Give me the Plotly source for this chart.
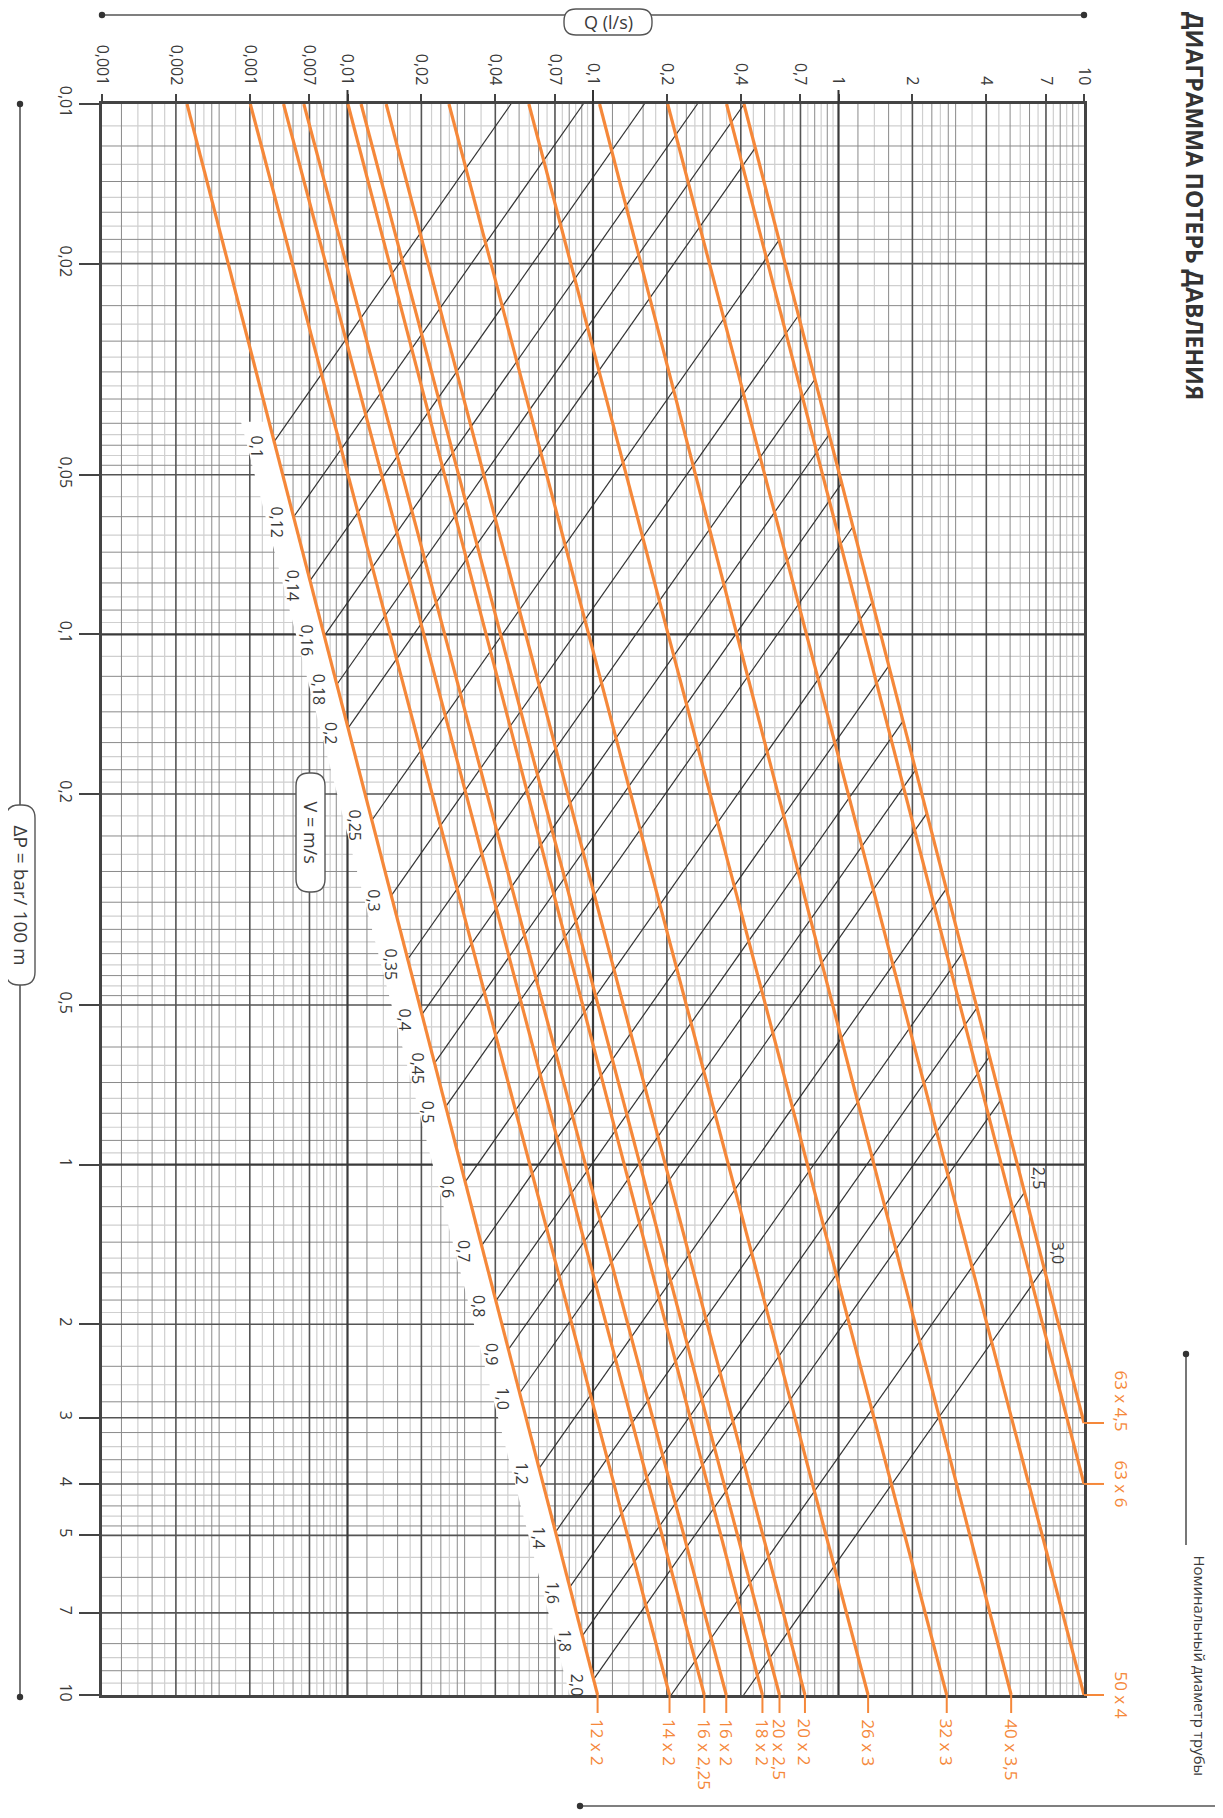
import math
import plotly.graph_objects as go

# ---------------- data ----------------
q_ticks = [0.001, 0.002, 0.004, 0.007, 0.01, 0.02, 0.04, 0.07, 0.1, 0.2, 0.4, 0.7, 1, 2, 4, 7, 10]
q_ticktext = ["0,001", "0,002", "0,001", "0,007", "0,01", "0,02", "0,04", "0,07", "0,1", "0,2",
              "0,4", "0,7", "1", "2", "4", "7", "10"]
dp_ticks = [0.01, 0.02, 0.05, 0.1, 0.2, 0.5, 1, 2, 3, 4, 5, 7, 10]
dp_ticktext = ["0,01", "0,02", "0,05", "0,1", "0,2", "0,5", "1", "2", "3", "4", "5", "7", "10"]

pipe_labels = ["12 x 2", "14 x 2", "16 x 2,25", "16 x 2", "18 x 2", "20 x 2,5", "20 x 2",
               "26 x 3", "32 x 3", "40 x 3,5", "50 x 4", "63 x 6", "63 x 4,5"]
pipe_od = [12, 14, 16, 16, 18, 20, 20, 26, 32, 40, 50, 63, 63]
pipe_wall = [2, 2, 2.25, 2, 2, 2.5, 2, 3, 3, 3.5, 4, 6, 4.5]
pipe_q_start = [0.00222, 0.00402, 0.00549, 0.00664, 0.01004, 0.01136, 0.01437, 0.0259, 0.0548,
                0.1064, 0.2015, 0.350, 0.412]
pipe_dp_start = [0.01] * 13
pipe_q_end = [0.1044, 0.205, 0.284, 0.349, 0.49, 0.575, 0.73, 1.32, 2.76, 5.05, 10, 10, 10]
pipe_dp_end = [10] * 11 + [4.0, 3.07]

velocities = [0.1, 0.12, 0.14, 0.16, 0.18, 0.2, 0.25, 0.3, 0.35, 0.4, 0.45, 0.5, 0.6, 0.7, 0.8,
              0.9, 1.0, 1.2, 1.4, 1.6, 1.8, 2.0, 2.5, 3.0]
velocity_text = ["0,1", "0,12", "0,14", "0,16", "0,18", "0,2", "0,25", "0,3", "0,35", "0,4", "0,45",
                 "0,5", "0,6", "0,7", "0,8", "0,9", "1,0", "1,2", "1,4", "1,6", "1,8", "2,0", "2,5", "3,0"]

# minor grid multipliers inside a decade
q_minor_mult = [1.2, 1.4, 1.6, 1.8, 2.2, 2.4, 2.6, 2.8, 3, 3.5, 4.5, 5, 5.5, 6, 6.5, 7.5, 8, 8.5, 9, 9.5]
dp_minor_mult = [1.1, 1.2, 1.3, 1.4, 1.5, 1.6, 1.7, 1.8, 1.9, 2.2, 2.4, 2.6, 2.8, 3, 3.2, 3.4, 3.6,
                 3.8, 4, 4.2, 4.4, 4.6, 4.8, 5.5, 6, 6.5, 7, 7.5, 8, 8.5, 9, 9.5]

# ---------------- geometry (page pixels; page body has an 8px margin) ----------------
PAGE_W, PAGE_H = 1223, 1818
BODY = 8
FIG_W, FIG_H = PAGE_W - 2 * BODY, PAGE_H - 2 * BODY
L, R, T, B = 102, 1084, 104, 1695          # plot area in page pixels
PW, PH = R - L, B - T
QMIN, QMAX = -3, 1       # log10 range
DPMIN, DPMAX = -2, 1
QPX = PW / (QMAX - QMIN)     # pixels per decade
DPPX = PH / (DPMAX - DPMIN)

ORANGE = "#F5883A"
DARK = "#3a3a3a"
FONT = "Open Sans"


def px(x):
    return (x - L) / PW


def py(y):
    return (B - y) / PH


def qpaper(q):
    return (math.log10(q) - QMIN) / (QMAX - QMIN)


def dppaper(p):
    return (DPMAX - math.log10(p)) / (DPMAX - DPMIN)


fig = go.Figure()


# ---------------- grid (as traces, data units) ----------------
def vlines(vals):
    xs, ys = [], []
    for v in vals:
        xs += [v, v, None]
        ys += [10 ** DPMIN, 10 ** DPMAX, None]
    return xs, ys


def hlines(vals):
    xs, ys = [], []
    for v in vals:
        xs += [10 ** QMIN, 10 ** QMAX, None]
        ys += [v, v, None]
    return xs, ys


q_tick_set = set(round(v, 6) for v in q_ticks)
dp_tick_set = set(round(v, 6) for v in dp_ticks)
q_light, q_dark, dp_light, dp_dark = [], [], [], []
for dec in range(QMIN, QMAX):
    for m in q_minor_mult:
        v = round(m * 10 ** dec, 8)
        if round(v, 6) in q_tick_set:
            continue
        dark = (m < 3 and round(m * 10) % 4 == 0) or (m >= 3 and m == int(m))
        (q_dark if dark else q_light).append(v)
for dec in range(DPMIN, DPMAX):
    for m in dp_minor_mult:
        v = round(m * 10 ** dec, 8)
        if round(v, 6) in dp_tick_set:
            continue
        dark = (m < 2 and round(m * 10) % 2 == 0) or (2 <= m < 5 and round(m * 10) % 4 == 0) or (m >= 5 and m == int(m))
        (dp_dark if dark else dp_light).append(v)

q_major = [v for v in q_ticks if v not in (0.001, 0.01, 0.1, 1, 10)]
q_decade = [0.01, 0.1, 1]
dp_major = [v for v in dp_ticks if v not in (0.01, 0.1, 1, 10)]
dp_decade = [0.1, 1]

for (vals, color, width, kind) in [
    (q_light, "#cfcfcf", 1.2, "v"), (dp_light, "#cfcfcf", 1.2, "h"),
    (q_dark, "#8a8a8a", 1.0, "v"), (dp_dark, "#8a8a8a", 1.0, "h"),
    (q_major, "#555555", 1.6, "v"), (dp_major, "#555555", 1.6, "h"),
    (q_decade, "#3a3a3a", 2.2, "v"), (dp_decade, "#3a3a3a", 2.2, "h"),
]:
    xs, ys = vlines(vals) if kind == "v" else hlines(vals)
    fig.add_trace(go.Scatter(x=xs, y=ys, mode="lines", line=dict(color=color, width=width),
                             hoverinfo="skip", showlegend=False))


# ---------------- pipe lines ----------------
def pipe_params(i):
    lq1, lp1 = math.log10(pipe_q_start[i]), math.log10(pipe_dp_start[i])
    lq2, lp2 = math.log10(pipe_q_end[i]), math.log10(pipe_dp_end[i])
    n = (lp2 - lp1) / (lq2 - lq1)
    return lq1, lp1, n


def pipe_lp(i, lq):
    lq1, lp1, n = pipe_params(i)
    return lp1 + n * (lq - lq1)


def pipe_lq(i, lp):
    lq1, lp1, n = pipe_params(i)
    return lq1 + (lp - lp1) / n


def inner_area_m2(i):
    d = (pipe_od[i] - 2 * pipe_wall[i]) / 1000.0
    return math.pi * d * d / 4


# velocity lines: from the smallest pipe to the largest pipe at the same speed
first, last = 0, len(pipe_labels) - 1
vx, vy = [], []
vel_label_pos = []
for v in velocities:
    lqs = math.log10(v * inner_area_m2(first) * 1000)
    lps = pipe_lp(first, lqs)
    lqe = math.log10(v * inner_area_m2(last) * 1000)
    lpe = pipe_lp(last, lqe)
    t0, t1 = 0.0, 1.0
    if lps > DPMAX:
        t0 = (DPMAX - lps) / (lpe - lps)
    if lpe < DPMIN:
        t1 = (DPMIN - lps) / (lpe - lps)
    a = (lqs + t0 * (lqe - lqs), lps + t0 * (lpe - lps))
    b = (lqs + t1 * (lqe - lqs), lps + t1 * (lpe - lps))
    vx += [10 ** a[0], 10 ** b[0], None]
    vy += [10 ** a[1], 10 ** b[1], None]
    vel_label_pos.append((a, b, t0 > 0))

# white band along the left of the smallest pipe (behind the speed labels)
first_lbl = vel_label_pos[0][0]
lp_top = first_lbl[1] - 20 / DPPX
lp_bot = DPMAX
k = -28 / QPX
band_lq = [pipe_lq(first, lp_top), pipe_lq(first, lp_bot), pipe_lq(first, lp_bot) + k,
           pipe_lq(first, lp_top) + k]
band_lp = [lp_top, lp_bot, lp_bot, lp_top]
fig.add_trace(go.Scatter(x=[10 ** a for a in band_lq], y=[10 ** b for b in band_lp], mode="lines",
                         fill="toself", fillcolor="white", line=dict(width=0, color="white"),
                         hoverinfo="skip", showlegend=False))

fig.add_trace(go.Scatter(x=vx, y=vy, mode="lines", line=dict(color="#333333", width=1.2),
                         hoverinfo="skip", showlegend=False))

annotations = []
shapes = []

# velocity labels
for (a, b, from_end), txt in zip(vel_label_pos, velocity_text):
    if not from_end:
        annotations.append(dict(x=a[0], y=a[1], xref="x", yref="y", text=txt, showarrow=False,
                                textangle=90, xanchor="right", yanchor="middle", xshift=-4, yshift=-5,
                                font=dict(family=FONT, size=16, color=DARK)))
    else:
        annotations.append(dict(x=b[0], y=b[1], xref="x", yref="y", text=txt, showarrow=False,
                                textangle=90, xanchor="left", yanchor="bottom", xshift=1, yshift=2,
                                font=dict(family=FONT, size=16, color=DARK)))

for i, lab in enumerate(pipe_labels):
    fig.add_trace(go.Scatter(x=[pipe_q_start[i], pipe_q_end[i]], y=[pipe_dp_start[i], pipe_dp_end[i]],
                             mode="lines", line=dict(color=ORANGE, width=3.2), name=lab,
                             hoverinfo="name", showlegend=False))

# pipe labels + leader lines
for i, lab in enumerate(pipe_labels):
    if pipe_dp_end[i] >= 10 and pipe_q_end[i] < 10:
        xp = qpaper(pipe_q_end[i])
        shapes.append(dict(type="line", xref="paper", yref="paper", x0=xp, x1=xp, y0=0, y1=-18 / PH,
                           line=dict(color=ORANGE, width=2)))
        annotations.append(dict(x=xp, y=-22 / PH, xref="paper", yref="paper", text=lab,
                                showarrow=False, textangle=90, xanchor="center", yanchor="top",
                                font=dict(family=FONT, size=17, color=ORANGE)))
    else:
        yp = dppaper(pipe_dp_end[i])
        shapes.append(dict(type="line", xref="paper", yref="paper", x0=1, x1=1 + 20 / PW, y0=yp, y1=yp,
                           line=dict(color=ORANGE, width=2)))
        annotations.append(dict(x=1 + 24 / PW, y=yp, xref="paper", yref="paper", text=lab,
                                showarrow=False, textangle=90, xanchor="left", yanchor="middle",
                                yshift=22 if i == last else 0,
                                font=dict(family=FONT, size=17, color=ORANGE)))

# long decade ticks at top
for q in q_decade:
    xp = qpaper(q)
    shapes.append(dict(type="line", xref="paper", yref="paper", x0=xp, x1=xp, y0=1, y1=1 + 14 / PH,
                       line=dict(color="#333333", width=2)))


# ---------------- decorations ----------------
def rounded_rect(x0, y0, x1, y1, r):
    def P(x, y):
        return f"{px(x):.5f},{py(y):.5f}"
    return ("M " + P(x0 + r, y0) + " L " + P(x1 - r, y0) + " Q " + P(x1, y0) + " " + P(x1, y0 + r) +
            " L " + P(x1, y1 - r) + " Q " + P(x1, y1) + " " + P(x1 - r, y1) +
            " L " + P(x0 + r, y1) + " Q " + P(x0, y1) + " " + P(x0, y1 - r) +
            " L " + P(x0, y0 + r) + " Q " + P(x0, y0) + " " + P(x0 + r, y0) + " Z")


def dot(x, y, r=3.2):
    return dict(type="circle", xref="paper", yref="paper", x0=px(x - r), x1=px(x + r),
                y0=py(y + r), y1=py(y - r), fillcolor="#333333", line=dict(width=0))


def seg(x0, y0, x1, y1, w=1.6, color="#555555"):
    return dict(type="line", xref="paper", yref="paper", x0=px(x0), y0=py(y0), x1=px(x1), y1=py(y1),
                line=dict(color=color, width=w))


def label(x, y, text, size, angle=0, color=DARK, xa="center", ya="middle"):
    return dict(x=px(x), y=py(y), xref="paper", yref="paper", text=text, showarrow=False,
                textangle=angle, xanchor=xa, yanchor=ya, font=dict(family=FONT, size=size, color=color))


# top Q axis title line
shapes += [seg(102, 15, 1084, 15), dot(102, 15), dot(1084, 15)]
shapes.append(dict(type="path", xref="paper", yref="paper", path=rounded_rect(564, 9, 652, 35, 12),
                   fillcolor="white", line=dict(color="#555555", width=1.4)))
annotations.append(label(608, 22, "Q (l/s)", 18))

# left dP title line
shapes += [seg(20, 104, 20, 1697), dot(20, 104), dot(20, 1697)]
shapes.append(dict(type="path", xref="paper", yref="paper", path=rounded_rect(6, 805, 35, 985, 13),
                   fillcolor="white", line=dict(color="#555555", width=1.4)))
annotations.append(label(20.5, 895, "ΔP = bar/ 100 m", 19, angle=90))

# V = m/s box
shapes.append(dict(type="path", xref="paper", yref="paper", path=rounded_rect(296, 773, 325, 892, 13),
                   fillcolor="white", line=dict(color="#555555", width=1.4)))
annotations.append(label(310.5, 832, "V = m/s", 18, angle=90))

# right side: nominal diameter
shapes += [seg(1186, 1354, 1186, 1545), dot(1186, 1354)]
annotations.append(label(1200, 1553, "Номинальный диаметр трубы", 15, angle=90, ya="top"))
shapes += [seg(580, 1806, 1215, 1806), dot(580, 1806)]

# title at the right page edge
annotations.append(label(1195, 10, "<b>ДИАГРАММА ПОТЕРЬ ДАВЛЕНИЯ</b>", 23, angle=90, ya="top",
                         color="#333333"))

fig.update_layout(
    width=FIG_W, height=FIG_H, autosize=False,
    margin=dict(l=L - BODY, r=FIG_W - (R - BODY), t=T - BODY, b=FIG_H - (B - BODY), pad=0),
    paper_bgcolor="white", plot_bgcolor="white",
    showlegend=False,
    shapes=shapes, annotations=annotations,
    xaxis=dict(type="log", range=[QMIN, QMAX], side="top", tickmode="array", tickvals=q_ticks,
               ticktext=q_ticktext, tickangle=90, ticks="outside", ticklen=7, tickwidth=1.6,
               tickcolor="#444444", showgrid=False, zeroline=False, showline=True, mirror=True,
               linecolor="#444444", linewidth=3, ticklabelstandoff=3,
               tickfont=dict(family=FONT, size=16, color=DARK)),
    yaxis=dict(type="log", range=[DPMAX, DPMIN], tickmode="array", tickvals=dp_ticks,
               ticktext=dp_ticktext, tickangle=90, ticks="outside", ticklen=20, tickwidth=1.6,
               tickcolor="#444444", showgrid=False, zeroline=False, showline=True, mirror=True,
               linecolor="#444444", linewidth=3,
               tickfont=dict(family=FONT, size=16, color=DARK)),
)

fig.write_html("out.html")
